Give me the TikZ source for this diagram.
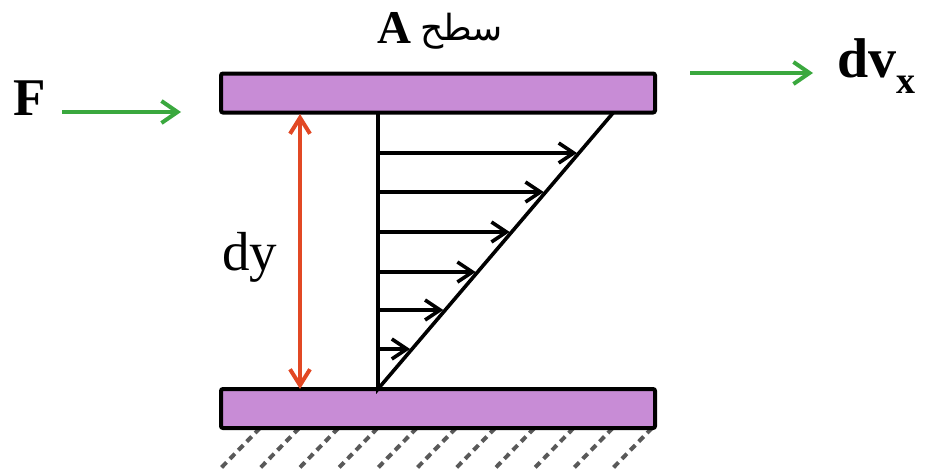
\documentclass[tikz,border=0pt]{standalone}
\usepackage{fontspec}
\setmainfont{Liberation Serif}
\newfontfamily\arabicfont[Script=Arabic]{DejaVu Sans}
\TeXXeTstate=1
\usetikzlibrary{arrows.meta}
\definecolor{plate}{RGB}{200,140,214}
\definecolor{grn}{RGB}{58,168,62}
\definecolor{redc}{RGB}{226,72,36}
\tikzset{
  platebox/.style={draw=black, line width=4pt, fill=plate, rounded corners=2pt,
    minimum width=434pt, minimum height=39pt, inner sep=0pt},
  vel/.style={line width=3.6pt, -{Straight Barb[length=15pt,width=20pt,line width=3.6pt]}},
  gline/.style={draw=grn, line width=4pt, -{Straight Barb[length=16pt,width=22pt,line width=4pt]}},
  rline/.style={draw=redc, line width=4pt, {Straight Barb[length=16pt,width=20pt,line width=4pt]}-{Straight Barb[length=16pt,width=20pt,line width=4pt]}},
  hatch/.style={draw=black!65, line width=4pt, dash pattern=on 7pt off 5pt},
  lbl/.style={inner sep=0pt, anchor=base west}
}
\begin{document}
\begin{tikzpicture}[x=1pt,y=-1pt]
\useasboundingbox (0,0) rectangle (927,471);
% hatching
\foreach \i in {0,...,10}{
  \draw[hatch] (260+39.2*\i,428) -- (220+39.2*\i,469);
}
% plates
\node[platebox] (top) at (438,93) {};
\node[platebox] (bot) at (438,408.5) {};
% profile
\coordinate (o) at (378,389);
\coordinate (t) at (378,113);
\coordinate (d) at (613,113);
\draw[line width=3.6pt] (t) -- (o) -- (d);
\foreach \yy [count=\k] in {153,192,232,272,310,349}{
  \coordinate (s\k) at (378,\yy);
  \coordinate (e\k) at ({378+(389-\yy)/276*235-2},\yy);
  \draw[vel] (s\k) -- (e\k);
}
% red dy arrow
\coordinate (r1) at (300,114);
\coordinate (r2) at (300,389);
\draw[rline] (r1) -- (r2);
% green arrows
\coordinate (f1) at (62,112);
\coordinate (f2) at (181,112);
\draw[gline] (f1) -- (f2);
\coordinate (v1) at (690,73);
\coordinate (v2) at (813,73);
\draw[gline] (v1) -- (v2);
% labels
\node[lbl] (F) at (13,115) {\fontsize{53}{60}\selectfont\bfseries F};
\node[lbl] (dy) at (222,270) {\fontsize{55}{60}\selectfont dy};
\node[lbl] (dv) at (837,77) {\fontsize{56}{60}\selectfont\bfseries dv\raisebox{-16pt}{\fontsize{38}{40}\selectfont x}};
\node[lbl] (A) at (377,43) {\fontsize{47}{50}\selectfont\bfseries A};
\node[lbl] (sat) at (420,40) {\fontsize{36}{40}\selectfont\arabicfont\beginR سطح\endR};
\end{tikzpicture}
\end{document}
